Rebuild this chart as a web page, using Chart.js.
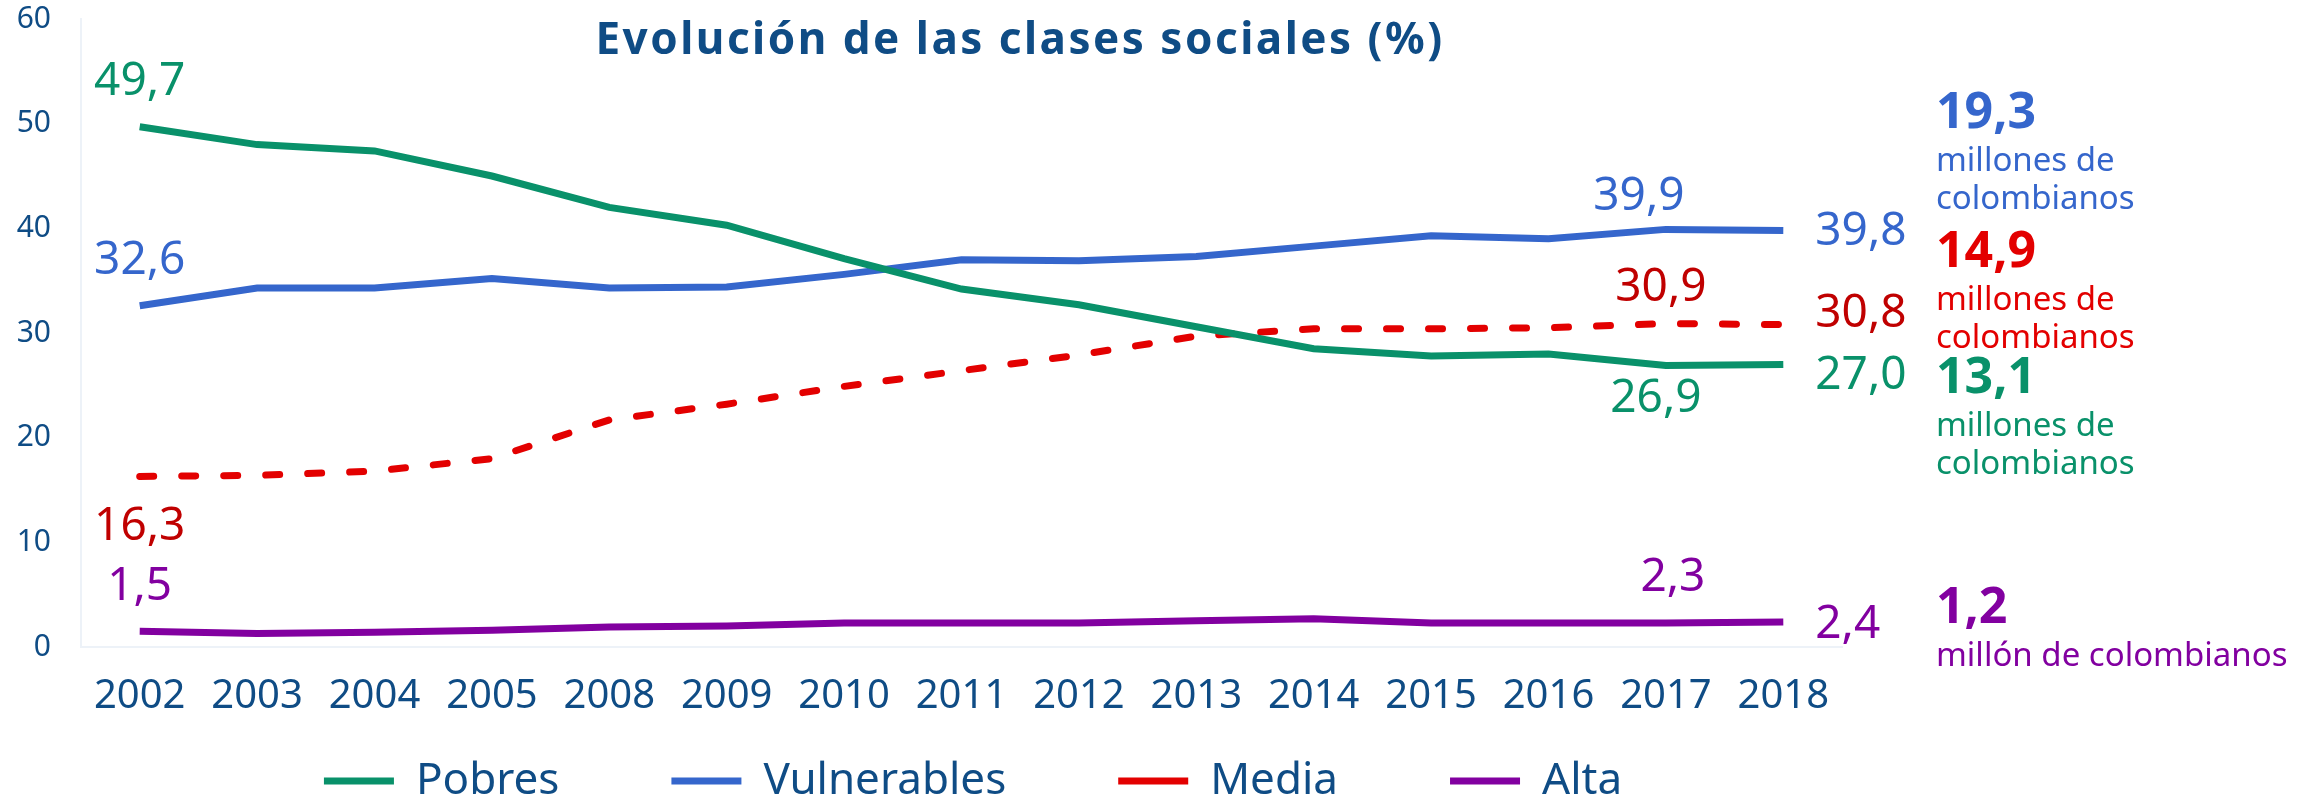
<!DOCTYPE html>
<html lang="es">
<head>
    <meta charset="UTF-8">
    <title>Evolución de las clases sociales</title>
    <script src="https://cdn.jsdelivr.net/npm/chart.js"></script>
    <style>
        html, body { margin: 0; padding: 0; background: #fff; }
        #wrap { width: 2323px; height: 802px; position: relative; }
    </style>
</head>
<body>

<div id="wrap">
    <canvas id="clasesChart"></canvas>
</div>

<script>
    // años y porcentajes por clase social
    const years = ['2002', '2003', '2004', '2005', '2008', '2009', '2010', '2011',
                   '2012', '2013', '2014', '2015', '2016', '2017', '2018'];
    const pobres      = [49.7, 48.0, 47.4, 45.0, 42.0, 40.3, 37.1, 34.2, 32.7, 30.6, 28.5, 27.8, 28.0, 26.9, 27.0];
    const vulnerables = [32.6, 34.3, 34.3, 35.2, 34.3, 34.4, 35.6, 37.0, 36.9, 37.3, 38.3, 39.3, 39.0, 39.9, 39.8];
    const media       = [16.3, 16.4, 16.8, 18.0, 21.7, 23.2, 24.9, 26.4, 27.9, 29.7, 30.4, 30.4, 30.5, 30.9, 30.8];
    const alta        = [1.5, 1.3, 1.4, 1.6, 1.9, 2.0, 2.3, 2.3, 2.3, 2.5, 2.7, 2.3, 2.3, 2.3, 2.4];
    const yTicks = [0, 10, 20, 30, 40, 50, 60];

    // millones de personas en 2018
    const millones = ['19,3', '14,9', '13,1', '1,2'];

    const NAVY = '#0f4c85';
    const GREEN = '#09916a';
    const BLUE = '#3566cc';
    const RED = '#e30000';
    const DARKRED = '#c00000';
    const PURPLE = '#8200a0';
    const FONT = '"Noto Sans", sans-serif';

    const fmt = v => v.toFixed(1).replace('.', ',');

    // etiquetas de valor: [dataset, índice, dx, dy, color, align]
    const valueLabels = [
        [0, 0, 0, -45, GREEN, 'center'],
        [0, 13, -10, 33, GREEN, 'center'],
        [0, 14, 32, 11, GREEN, 'left'],
        [1, 0, 0, -45, BLUE, 'center'],
        [1, 13, -27, -32, BLUE, 'center'],
        [1, 14, 32, 1, BLUE, 'left'],
        [2, 0, 0, 50, DARKRED, 'center'],
        [2, 13, -5, -36, DARKRED, 'center'],
        [2, 14, 32, -11, DARKRED, 'left'],
        [3, 0, 0, -44, PURPLE, 'center'],
        [3, 13, 7, -45, PURPLE, 'center'],
        [3, 14, 32, 3, PURPLE, 'left']
    ];

    const LEGEND_PAD = 112;
    const LEGEND_FONT = 44;

    const extrasPlugin = {
        id: 'extras',
        afterLayout(chart) {
            // colocar la leyenda como en el original
            const lg = chart.legend;
            const dy = 781 - (lg.top + LEGEND_PAD + LEGEND_FONT / 2);
            lg.top += dy;
            lg.bottom += dy;
            lg.left += 52;
            lg.right += 52;
        },
        afterDatasetsDraw(chart) {
            const ctx = chart.ctx;
            ctx.save();

            // título
            ctx.fillStyle = NAVY;
            ctx.font = 'bold 44px ' + FONT;
            ctx.letterSpacing = '2.5px';
            ctx.textAlign = 'center';
            ctx.textBaseline = 'alphabetic';
            ctx.fillText('Evolución de las clases sociales (%)', 1020, 54);
            ctx.letterSpacing = '0px';

            // valores junto a las líneas
            ctx.font = '46px ' + FONT;
            ctx.textBaseline = 'middle';
            valueLabels.forEach(([ds, i, dx, dy, color, align]) => {
                const pt = chart.getDatasetMeta(ds).data[i];
                const v = chart.data.datasets[ds].data[i];
                ctx.fillStyle = color;
                ctx.textAlign = align;
                ctx.fillText(fmt(v), pt.x + dx, pt.y + dy);
            });

            // bloque de millones a la derecha
            const x0 = 1936;
            ctx.textAlign = 'left';
            ctx.textBaseline = 'alphabetic';
            const blocks = [
                [millones[0], BLUE, 128, ['millones de', 'colombianos']],
                [millones[1], RED, 267, ['millones de', 'colombianos']],
                [millones[2], GREEN, 393, ['millones de', 'colombianos']],
                [millones[3], PURPLE, 623, ['millón de colombianos']]
            ];
            blocks.forEach(([num, color, base, lines]) => {
                ctx.fillStyle = color;
                ctx.font = 'bold 50px ' + FONT;
                ctx.fillText(num, x0, base);
                ctx.font = '33px ' + FONT;
                lines.forEach((t, k) => ctx.fillText(t, x0, base + 43 + k * 38));
            });
            ctx.restore();
        }
    };

    new Chart(document.getElementById('clasesChart'), {
        type: 'line',
        data: {
            labels: years,
            datasets: [{
                label: 'Pobres',
                data: pobres,
                borderColor: GREEN,
                backgroundColor: GREEN,
                borderWidth: 7,
                pointRadius: 0,
                pointStyle: 'line',
                tension: 0
            }, {
                label: 'Vulnerables',
                data: vulnerables,
                borderColor: BLUE,
                backgroundColor: BLUE,
                borderWidth: 7,
                pointRadius: 0,
                pointStyle: 'line',
                tension: 0
            }, {
                label: 'Media',
                data: media,
                borderColor: RED,
                backgroundColor: RED,
                borderWidth: 7,
                borderDash: [14, 28],
                borderCapStyle: 'round',
                pointRadius: 0,
                pointStyle: 'line',
                tension: 0
            }, {
                label: 'Alta',
                data: alta,
                borderColor: PURPLE,
                backgroundColor: PURPLE,
                borderWidth: 7,
                pointRadius: 0,
                pointStyle: 'line',
                tension: 0
            }]
        },
        options: {
            responsive: true,
            maintainAspectRatio: false,
            animation: false,
            layout: { padding: { top: 19, right: 481, bottom: -111, left: 0 } },
            plugins: {
                title: { display: false },
                tooltip: { enabled: false },
                legend: {
                    position: 'bottom',
                    labels: {
                        usePointStyle: true,
                        pointStyleWidth: 70,
                        padding: LEGEND_PAD,
                        color: NAVY,
                        font: { family: FONT, size: LEGEND_FONT }
                    }
                }
            },
            scales: {
                x: {
                    offset: true,
                    grid: { display: false, drawTicks: false },
                    border: { display: true, color: '#edf2f8', width: 2 },
                    ticks: {
                        color: NAVY,
                        padding: 26,
                        maxRotation: 0,
                        autoSkip: false,
                        font: { family: FONT, size: 40 }
                    },
                    afterFit(scale) { scale.height = 100; }
                },
                y: {
                    min: 0,
                    max: 60,
                    afterBuildTicks(scale) { scale.ticks = yTicks.map(v => ({ value: v })); },
                    grid: { display: false, drawTicks: true, tickLength: 30 },
                    border: { display: true, color: '#edf2f8', width: 2 },
                    ticks: {
                        color: NAVY,
                        padding: 0,
                        font: { family: FONT, size: 30 }
                    },
                    afterFit(scale) { scale.width = 81; }
                }
            }
        },
        plugins: [extrasPlugin]
    });
</script>

</body>
</html>
